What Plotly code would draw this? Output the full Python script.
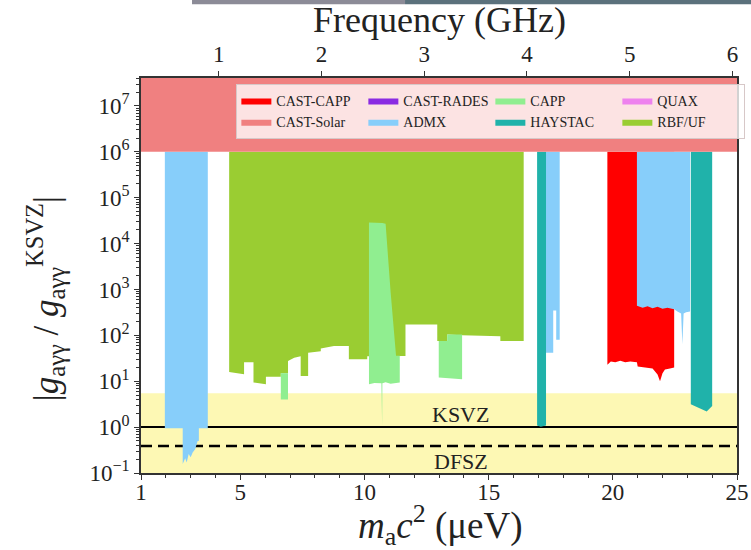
import plotly.graph_objects as go

# ---------------- data ----------------
X_RANGE = [1, 25]                 # ma c^2 (ueV)
Y_LOG_RANGE = [-1, 7.61]
GHZ_PER_UEV = 0.241799
FREQ_TICKS = [1, 2, 3, 4, 5, 6]
MASS_TICKS = [1, 5, 10, 15, 20, 25]
Y_TICK_EXP = [-1, 0, 1, 2, 3, 4, 5, 6, 7]

KSVZ = 1.0
DFSZ = 0.386
BAND_LOW = 0.08
BAND_TOP = 5.5
SOLAR_LIMIT = 1e6
SOLAR_TOP = 1e8
HAZE_TOP = 1e6

# CAST-Solar (horizontal band)
solar_x = [1, 25]

# ADMX regions
admx1_x = [1.96, 2.68, 2.68, 2.78, 2.84, 2.92, 3.0, 3.08, 3.18, 3.28, 3.33, 3.33, 3.69]
admx1_low = [0.95, 0.95, 0.157, 0.21, 0.17, 0.26, 0.22, 0.28, 0.33, 0.50, 0.50, 0.95, 0.95]
admx2_x = [17.31, 17.6, 17.6, 17.72, 17.72, 17.86]
admx2_low = [42, 42, 350, 350, 80, 80]
admx3_x = [20.97, 21.2, 21.4, 21.6, 21.8, 22.0, 22.2, 22.47, 22.6, 22.75, 22.8, 22.85, 22.95, 23.11]
admx3_low = [440, 400, 430, 390, 420, 380, 400, 370, 330, 300, 63, 300, 320, 330]

# RBF/UF
rbf_x = [4.55, 5.15, 5.15, 5.53, 5.53, 6.03, 6.03, 6.63, 6.63, 6.92, 6.92, 7.17, 7.43, 7.43,
         7.73, 7.73, 8.24, 8.24, 8.77, 9.37, 9.37, 10.11, 10.11, 11.38, 11.65, 11.65, 12.93,
         12.93, 13.33, 13.33, 13.93, 15.47, 15.47, 16.41]
rbf_low = [15.9, 14.2, 26, 26, 9.4, 8.6, 12.6, 12.6, 15, 15, 27.5, 32.6, 35, 13,
           13, 42, 45, 52, 58.6, 58.6, 30, 30, 35, 35, 35.5, 173, 173,
           75, 75, 105, 100, 96, 75, 75]

# CAPP regions
capp1_x = [6.63, 6.92]
capp1_low = [4.0, 4.0]
capp1_up = [15, 15]
capp2_x = [10.18, 10.4, 10.68, 10.69, 10.71, 10.72, 10.85, 11.05, 11.27, 11.42]
capp2_low = [8.6, 9.2, 9.0, 1.1, 1.1, 9.0, 9.5, 8.8, 9.0, 9.4]
capp2_up = [2.9e4, 2.85e4, 2.8e4, 2.8e4, 2.8e4, 2.8e4, 2.7e4, 900, 36, 36]
capp3_x = [12.99, 13.33, 13.33, 13.93]
capp3_low = [12, 11.6, 11.6, 11]
capp3_up = [75, 75, 105, 105]

# CAST-CAPP
castcapp_x = [19.78, 19.92, 20.1, 20.3, 20.5, 20.7, 20.97, 21.0, 21.3, 21.6, 21.8, 21.9, 22.0,
              22.1, 22.3, 22.47]
castcapp_low = [23, 27, 26, 28, 26, 27, 26, 21, 20, 19, 14, 10, 15, 18, 19, 20]

# HAYSTAC
hay1_x = [16.95, 17.1, 17.31]
hay1_low = [1.08, 1.02, 1.08]
hay2_x = [23.14, 23.78, 24.0]
hay2_low = [3.16, 2.2, 2.9]

# legend-only experiments (outside plotted mass range)
rades_x = [34.6, 34.8]
rades_low = [1e3, 1e3]
quax_x = [42.8, 43.1]
quax_low = [600, 600]

COLORS = {
    "CAST-CAPP": "#FF0000",
    "CAST-Solar": "#F08080",
    "CAST-RADES": "#8A2BE2",
    "ADMX": "#87CEFA",
    "CAPP": "#90EE90",
    "HAYSTAC": "#20B2AA",
    "QUAX": "#EE82EE",
    "RBF/UF": "#9ACD32",
}
LEGEND_RANK = {"CAST-CAPP": 1, "CAST-RADES": 2, "CAPP": 3, "QUAX": 4,
               "CAST-Solar": 5, "ADMX": 6, "HAYSTAC": 7, "RBF/UF": 8}

FONT = "Liberation Serif"

fig = go.Figure()


def region(name, xs, low, up=None, show=True, top=HAZE_TOP):
    if up is None:
        up = [top] * len(xs)
    px = list(xs) + list(xs)[::-1]
    py = list(low) + list(up)[::-1]
    fig.add_trace(go.Scatter(
        x=px, y=py, fill="toself", mode="lines",
        line=dict(width=0, color=COLORS[name]),
        fillcolor=COLORS[name], name=name, legendgroup=name,
        showlegend=show, legendrank=LEGEND_RANK[name], hoverinfo="skip"))


# yellow band
fig.add_trace(go.Scatter(
    x=X_RANGE + X_RANGE[::-1], y=[BAND_LOW, BAND_LOW, BAND_TOP, BAND_TOP],
    fill="toself", mode="lines", line=dict(width=0), fillcolor="#FDF8B4",
    showlegend=False, hoverinfo="skip"))
# KSVZ / DFSZ lines
fig.add_trace(go.Scatter(x=X_RANGE, y=[KSVZ, KSVZ], mode="lines",
                         line=dict(color="black", width=2), showlegend=False, hoverinfo="skip"))
fig.add_trace(go.Scatter(x=X_RANGE, y=[DFSZ, DFSZ], mode="lines",
                         line=dict(color="black", width=2.5, dash="11px,6px"),
                         showlegend=False, hoverinfo="skip"))

region("RBF/UF", rbf_x, rbf_low)
region("CAPP", capp1_x, capp1_low, capp1_up)
region("CAPP", capp2_x, capp2_low, capp2_up, show=False)
region("CAPP", capp3_x, capp3_low, capp3_up, show=False)
region("CAST-CAPP", castcapp_x, castcapp_low)
region("ADMX", admx1_x, admx1_low)
region("ADMX", admx2_x, admx2_low, show=False)
region("ADMX", admx3_x, admx3_low, show=False)
region("HAYSTAC", hay1_x, hay1_low)
region("HAYSTAC", hay2_x, hay2_low, show=False)
region("CAST-RADES", rades_x, rades_low)
region("QUAX", quax_x, quax_low)
region("CAST-Solar", solar_x, [SOLAR_LIMIT] * len(solar_x), top=SOLAR_TOP)

# dummy trace for top axis
fig.add_trace(go.Scatter(x=[X_RANGE[0] * GHZ_PER_UEV], y=[KSVZ], xaxis="x2", mode="markers",
                         marker=dict(opacity=0), showlegend=False, hoverinfo="skip"))

axis_col = "#333333"
tick_font = dict(family=FONT, size=23, color="#222")

fig.update_layout(
    width=751, height=550,
    margin=dict(l=141, r=14, t=78, b=77, autoexpand=False),
    paper_bgcolor="white", plot_bgcolor="white",
    font=dict(family=FONT, color="#222"),
    xaxis=dict(range=X_RANGE, tickvals=MASS_TICKS, ticks="outside", ticklen=5,
               tickwidth=1.3, tickcolor=axis_col, showline=True, linecolor=axis_col,
               linewidth=1.5, showgrid=False, zeroline=False, tickfont=tick_font,
               automargin=False, ticklabelstandoff=-7,
               minor=dict(tickmode="linear", tick0=0, dtick=1, ticks="outside", ticklen=3,
                          tickcolor=axis_col, showgrid=False)),
    xaxis2=dict(range=[X_RANGE[0] * GHZ_PER_UEV, X_RANGE[1] * GHZ_PER_UEV],
                overlaying="x", side="top", anchor="y", tickvals=FREQ_TICKS,
                ticks="outside", ticklen=5, tickwidth=1.3, tickcolor=axis_col,
                showline=True, linecolor=axis_col, linewidth=1.5, showgrid=False,
                zeroline=False, tickfont=tick_font, automargin=False),
    yaxis=dict(type="log", range=Y_LOG_RANGE,
               tickvals=[10 ** e for e in Y_TICK_EXP],
               ticktext=["10<sup>%s</sup>" % (str(e) if e >= 0 else "\u2212" + str(-e)) for e in Y_TICK_EXP],
               ticks="outside", ticklen=5, tickwidth=1.3, tickcolor=axis_col,
               showline=True, mirror=True, linecolor=axis_col, linewidth=1.5,
               showgrid=False, zeroline=False, tickfont=tick_font, automargin=False,
               minor=dict(dtick="D1", ticks="outside", ticklen=3, tickcolor=axis_col,
                          showgrid=False)),
    legend=dict(orientation="h", x=0.16, y=0.985, xanchor="left", yanchor="top",
                bgcolor="rgba(255,255,255,0.78)", bordercolor="rgba(215,200,200,1)",
                borderwidth=1, font=dict(family=FONT, size=14, color="#222"),
                entrywidth=82, tracegroupgap=0, itemwidth=30),
    showlegend=True,
)

fig.add_annotation(text="KSVZ", x=13.86, y=0.28, xref="x", yref="y", showarrow=False,
                   xanchor="center", yanchor="middle",
                   font=dict(family=FONT, size=22, color="#222"))
fig.add_annotation(text="DFSZ", x=13.9, y=-0.74, xref="x", yref="y", showarrow=False,
                   xanchor="center", yanchor="middle",
                   font=dict(family=FONT, size=22, color="#222"))
fig.add_annotation(text="Frequency (GHz)", x=0.5, y=1.147, xref="paper", yref="paper",
                   xanchor="center", yanchor="middle",
                   showarrow=False, font=dict(family=FONT, size=36, color="#222"))
fig.add_annotation(text="<i>m</i><sub>a</sub><i>c</i><sup>2</sup> (\u03bceV)", x=0.502, y=-0.132,
                   xref="paper", yref="paper", showarrow=False,
                   xanchor="center", yanchor="middle",
                   font=dict(family=FONT, size=37, color="#222"))
fig.add_annotation(text="|<i>g</i><sub>a\u03b3\u03b3</sub> / <i>g</i><sub>a\u03b3\u03b3</sub><sup>KSVZ</sup>|",
                   x=-0.161, y=0.44, xref="paper", yref="paper", textangle=-90,
                   xanchor="center", yanchor="middle",
                   showarrow=False, font=dict(family=FONT, size=35, color="#222"))

# screenshot strip at top
fig.add_shape(type="rect", xref="paper", yref="paper", x0=0.0856, x1=0.443, y0=1.187, y1=1.2,
              fillcolor="#8c8b97", line=dict(width=0))
fig.add_shape(type="rect", xref="paper", yref="paper", x0=0.443, x1=1.03, y0=1.187, y1=1.2,
              fillcolor="#5b717c", line=dict(width=0))

fig.write_html("out.html", config={"displayModeBar": False},
               post_script="document.body.style.margin='0';")
